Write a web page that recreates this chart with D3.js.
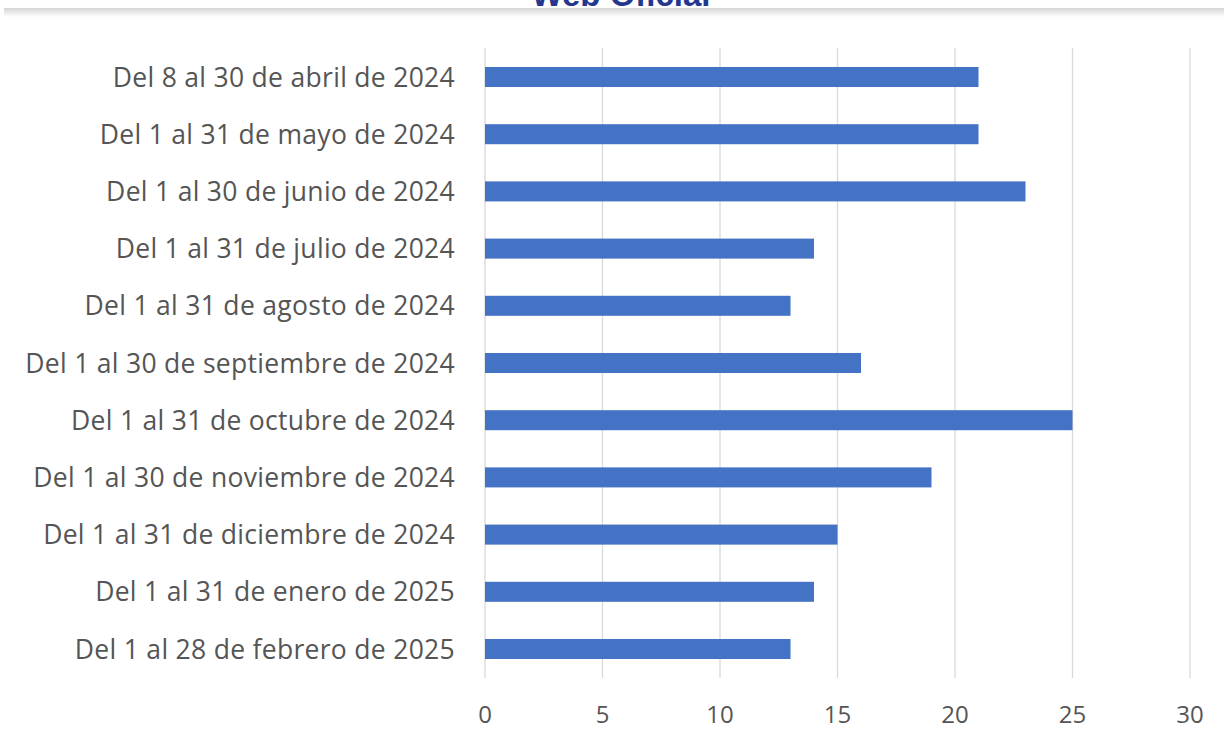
<!DOCTYPE html>
<html><head><meta charset="utf-8">
<script src="https://cdn.jsdelivr.net/npm/d3@7"></script>
<style>body{margin:0;background:#fff}svg{display:block}</style>
</head><body>
<script>
const categories = [
  "Del 8 al 30 de abril de 2024",
  "Del 1 al 31 de mayo de 2024",
  "Del 1 al 30 de junio de 2024",
  "Del 1 al 31 de julio de 2024",
  "Del 1 al 31 de agosto de 2024",
  "Del 1 al 30 de septiembre de 2024",
  "Del 1 al 31 de octubre de 2024",
  "Del 1 al 30 de noviembre de 2024",
  "Del 1 al 31 de diciembre de 2024",
  "Del 1 al 31 de enero de 2025",
  "Del 1 al 28 de febrero de 2025"
];
const values = [21, 21, 23, 14, 13, 16, 25, 19, 15, 14, 13];
const xTicks = [0, 5, 10, 15, 20, 25, 30];
const titleText = "Web Oficial";

const W = 1224, H = 731;
const svg = d3.select("body").append("svg").attr("width", W).attr("height", H);

// header band (title is cropped at the top edge in the original)
svg.append("text").attr("x", 621).attr("y", 6).attr("text-anchor", "middle")
  .attr("font-family", "Liberation Sans, Arial, sans-serif").attr("font-weight", "bold")
  .attr("font-size", 33).attr("fill", "#23378f").text(titleText);
const grad = svg.append("defs").append("linearGradient").attr("id","sh").attr("x1",0).attr("y1",0).attr("x2",0).attr("y2",1);
grad.append("stop").attr("offset","0%").attr("stop-color","#d4d4d4");
grad.append("stop").attr("offset","100%").attr("stop-color","#ffffff");
svg.append("rect").attr("x", 4).attr("y", 8).attr("width", W - 4).attr("height", 9).attr("fill", "url(#sh)");

const x = d3.scaleLinear().domain([0, 30]).range([485, 1190]);
const y = d3.scaleBand().domain(categories).range([48.4, 677.6]).paddingInner(0.65).paddingOuter(0.325);

const font = "'Open Sans', 'Noto Sans', sans-serif";

svg.append("g").selectAll("line").data(xTicks).join("line")
  .attr("x1", d => x(d)).attr("x2", d => x(d)).attr("y1", 48).attr("y2", 678)
  .attr("stroke", "#d9d9d9").attr("stroke-width", 1.3);

svg.append("g").selectAll("rect").data(values).join("rect")
  .attr("x", x(0)).attr("y", (d, i) => y(categories[i]))
  .attr("width", d => x(d) - x(0)).attr("height", y.bandwidth())
  .attr("fill", "#4472c4");

svg.append("g").selectAll("text").data(categories).join("text")
  .attr("x", 455).attr("y", d => y(d) + y.bandwidth() / 2).attr("dy", "0.36em")
  .attr("text-anchor", "end").attr("font-family", font).attr("font-size", 26.5)
  .attr("letter-spacing", 0.3)
  .attr("fill", "#555").text(d => d);

svg.append("g").selectAll("text").data(xTicks).join("text")
  .attr("x", d => x(d)).attr("y", 714).attr("dy", "0.36em")
  .attr("text-anchor", "middle").attr("font-family", font).attr("font-size", 24)
  .attr("fill", "#555").text(d => d);
</script>
</body></html>
